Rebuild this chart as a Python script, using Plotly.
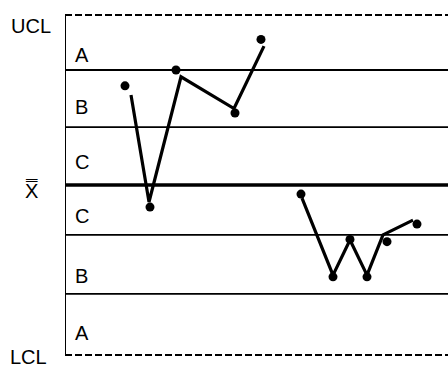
import plotly.graph_objects as go

# control chart data (x in sample position units, y in sigma-ish units around the centre)
point_x = [6.0, 8.5, 11.1, 17.0, 19.6, 23.6, 26.8, 28.5, 30.2, 32.2, 35.2]
point_y = [1.75, -0.39, 2.03, 1.27, 2.57, -0.16, -1.62, -0.96, -1.62, -1.00, -0.69]

# the connecting lines are drawn slightly off the dots, like in the original drawing
line1_x = [6.6, 8.4, 11.6, 16.9, 19.9]
line1_y = [1.59, -0.30, 1.91, 1.35, 2.45]
line2_x = [23.7, 26.8, 28.5, 30.2, 31.8, 34.8]
line2_y = [-0.23, -1.59, -0.97, -1.59, -0.88, -0.62]

# zone boundaries and labels
ucl, lcl, center = 3.0, -3.0, 0.0
zone_lines = [2.03, 1.02, -0.88, -1.92]
zone_labels = ["A", "B", "C", "C", "B", "A"]
zone_label_y = [2.29, 1.38, 0.41, -0.55, -1.61, -2.61]

# labels on the left, placed in paper coords
side_labels = ["UCL", "X\u033F", "LCL"]
side_label_x = [-0.088, -0.088, -0.094]
side_label_y = [2.80, -0.10, -3.04]

font = dict(family="Liberation Sans, Arial, sans-serif", size=20, color="black")

fig = go.Figure()

fig.add_trace(go.Scatter(x=line1_x + [None] + line2_x, y=line1_y + [None] + line2_y,
                         mode="lines", line=dict(color="black", width=3.2),
                         connectgaps=False, hoverinfo="skip"))
fig.add_trace(go.Scatter(x=point_x, y=point_y, mode="markers",
                         marker=dict(color="black", size=9), hoverinfo="skip"))

# dashed control limits
for yv in [ucl, lcl]:
    fig.add_shape(type="line", xref="paper", x0=0, x1=1, y0=yv, y1=yv,
                  line=dict(color="black", width=2, dash="7px,3px"))

# zone lines
for yv in zone_lines:
    fig.add_shape(type="line", xref="paper", x0=0, x1=1, y0=yv, y1=yv,
                  line=dict(color="black", width=1.8))

# centre line
fig.add_shape(type="line", xref="paper", x0=0, x1=1, y0=center, y1=center,
              line=dict(color="black", width=3.5))

# left border
fig.add_shape(type="line", x0=0, x1=0, y0=lcl, y1=ucl, line=dict(color="black", width=2))

for lab, yv in zip(zone_labels, zone_label_y):
    fig.add_annotation(x=1.65, y=yv, text=lab, showarrow=False, font=font)

for lab, xv, yv in zip(side_labels, side_label_x, side_label_y):
    fig.add_annotation(xref="paper", x=xv, y=yv, text=lab, showarrow=False,
                       xanchor="center", font=font)

fig.update_layout(
    width=448, height=365,
    margin=dict(l=65, r=0, t=0, b=0),
    paper_bgcolor="white", plot_bgcolor="white",
    showlegend=False,
    xaxis=dict(range=[0, 38.3], visible=False, fixedrange=True),
    yaxis=dict(range=[-3.176, 3.265], visible=False, fixedrange=True),
)

fig.write_html("out.html", config={"displayModeBar": False},
               post_script="document.body.style.margin='0';")
